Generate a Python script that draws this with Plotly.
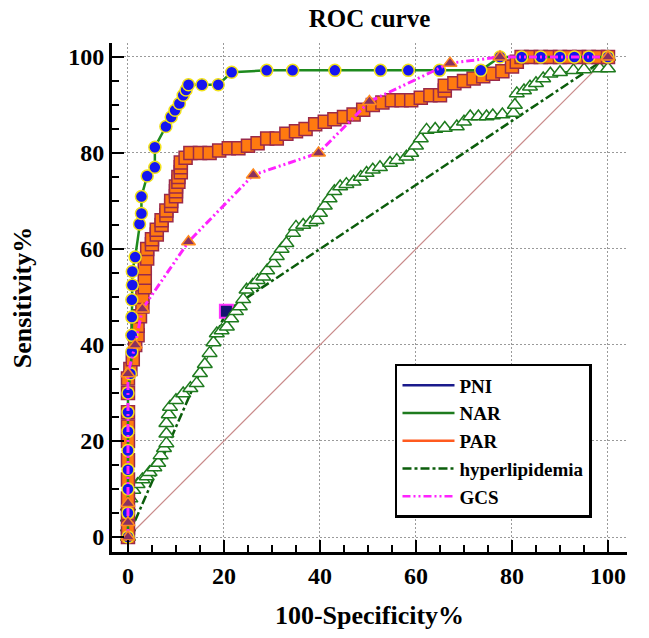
import plotly.graph_objects as go

# ---------------- data ----------------
pni_x = [0, 0, 0, 0, 0, 0, 0, 0, 0.5, 0.8, 0.8, 0.8, 0.8, 0.9, 0.9, 1.5, 2.4, 2.8, 2.8, 4.0,
         5.6, 5.6, 7.9, 9.0, 9.8, 10.7, 11.5, 12.1, 12.6, 15.4, 18.8, 21.6, 28.9, 34.3, 43.1,
         52.6, 58.4, 64.9, 73.5, 77.5, 82, 86, 90, 93, 96, 100]
pni_y = [0, 5, 10, 14, 18, 22, 26, 30, 34, 38.6, 42, 45.8, 49.4, 52.5, 55.3, 58.3, 65.2, 67.4, 70.9, 75.2,
         77, 81.2, 85.5, 87.5, 88.9, 90.3, 92, 93.1, 94.2, 94.2, 94.2, 96.8, 97.2, 97.2, 97.2,
         97.2, 97.2, 97.2, 97.2, 100, 100, 100, 100, 100, 100, 100]

nar_x = [0, 0, 0, 0, 0.5, 1.1, 2, 3, 3.9, 4.5, 5.5, 6.3, 6.8, 7.5, 8, 8, 8, 8.5, 8.75, 10,
         11.5, 13, 14.3, 15, 16, 17, 17.8, 18.5, 19.5, 20.6, 21.5, 22.5, 23.3, 24, 24.7, 26, 27,
         28.2, 29, 30.3, 31, 32, 33, 34.4, 35, 36.5, 38, 39.3, 40, 41, 42, 43, 44.2, 45.5, 47,
         48.5, 49.7, 51, 52.5, 54.6, 56, 58, 59, 60, 61, 62.2, 64, 66, 68.5, 70, 71.3, 73, 74.7,
         76, 78, 80.3, 80.6, 81, 82.5, 83.75, 85, 86.5, 88, 90, 92.8, 95, 98.3, 100, 100]
nar_y = [0, 2, 4, 6.3, 8, 9.8, 11, 12, 12.6, 13.5, 14.5, 15.4, 17, 18.5, 19.5, 21.5, 23.7, 25.5, 27.1, 28.5,
         29.9, 31, 32, 34.1, 36, 38.3, 40.5, 42.4, 43, 43.8, 45.5, 47, 48, 49.5, 51.5, 52.5, 53.5,
         54.2, 55.5, 57, 58.5, 60, 61.2, 63.3, 64.6, 65, 65.5, 66, 67.5, 69, 70.5, 72, 73, 73.5, 74,
         75, 75.8, 76.5, 77, 77.9, 78.5, 79.2, 80, 81.5, 83, 84.8, 85, 85.2, 85.5, 86.5, 87.6, 87.6, 87.6,
         87.8, 88, 88.3, 90, 92.4, 93, 93.8, 94.5, 95.5, 96.5, 96.8, 97.2, 97.4, 97.6, 97.6, 100]

par_x = [0, 0, 0, 0, 0, 0, 0, 0, 0, 0, 0, 0.5, 1, 1.5, 2, 2, 2.5, 3, 3, 3.5, 3.5, 3.5, 4, 4,
         5, 5, 6, 6, 7, 7, 8, 8, 9, 9, 10, 10, 10, 10.5, 10.5, 11, 11, 11, 12, 13, 15, 17, 19,
         21, 23, 25, 27, 29, 31, 33, 35, 37, 39, 41, 43, 45, 47, 49, 51, 53, 55, 57, 59, 61, 63,
         65, 66, 66, 68, 70, 72, 74, 76, 78, 80, 81, 82, 84, 86, 88, 90, 92, 94, 96, 98, 100]
par_y = [0, 2, 5, 8, 12, 16, 20, 23, 26, 30, 33, 35, 37, 40, 42, 44, 46, 48, 50, 52, 54, 56, 58, 60,
         61, 62, 63, 64, 65, 66, 67, 68, 69, 70, 71, 72, 73, 74, 75, 76, 77, 78, 79, 80, 80, 80, 80.5,
         81, 81, 81.5, 82, 83, 83, 84, 84.5, 85, 86, 86.5, 87, 87.5, 88, 89, 90, 90.5, 91, 91, 91, 91.5, 92,
         92, 93, 94, 94.5, 95, 95.5, 96, 96.5, 97, 98, 99, 100, 100, 100, 100, 100, 100, 100, 100, 100, 100]

hyp_x = [0, 20.5, 100]
hyp_y = [0, 47, 100]

gcs_x = [0, 0, 0, 0, 1.5, 3, 12.6, 26.1, 39.7, 50.3, 67.1, 77.5, 100]
gcs_y = [0, 3, 7, 34, 40, 47.5, 61.5, 75.4, 80, 90.7, 98.7, 100, 100]

diag = [0, 100]

legend_names = ["PNI", "NAR", "PAR", "hyperlipidemia", "GCS"]
legend_colors = ["#1a1a8c", "#1e7b1e", "#ff5a1f", "#0b5d0b", "#ff22ff"]
legend_dash = ["solid", "solid", "solid", "dashdot", "8px,3px,2px,3px,2px,3px"]

SERIF = "Liberation Serif, Times New Roman, serif"

fig = go.Figure()

# reference diagonal
fig.add_trace(go.Scatter(x=diag, y=diag, mode="lines",
                         line=dict(color="#c98a8a", width=1.2), showlegend=False, hoverinfo="skip"))
# hyperlipidemia
fig.add_trace(go.Scatter(x=hyp_x, y=hyp_y, mode="lines",
                         line=dict(color="#0b5d0b", width=2.5, dash="dashdot"), showlegend=False))
fig.add_trace(go.Scatter(x=hyp_x[1:2], y=hyp_y[1:2], mode="markers",
                         marker=dict(symbol="square", size=13, color="#14146e",
                                     line=dict(color="#ff33ff", width=2)), showlegend=False))
# NAR
fig.add_trace(go.Scatter(x=nar_x, y=nar_y, mode="lines+markers",
                         line=dict(color="#1e7b1e", width=1),
                         marker=dict(symbol="triangle-up", size=13, color="white",
                                     line=dict(color="#1e7b1e", width=1.5)), showlegend=False))
# PAR
fig.add_trace(go.Scatter(x=par_x, y=par_y, mode="lines+markers",
                         line=dict(color="#ff5a1f", width=2),
                         marker=dict(symbol="square", size=13, color="#ff7a10",
                                     line=dict(color="#9a2a4a", width=1.5)), showlegend=False))
# PNI
fig.add_trace(go.Scatter(x=pni_x, y=pni_y, mode="lines+markers",
                         line=dict(color="#1e8a1e", width=2.5),
                         marker=dict(symbol="circle", size=12, color="#1515f0",
                                     line=dict(color="#f2e21a", width=1.5)), showlegend=False))
# GCS
fig.add_trace(go.Scatter(x=gcs_x, y=gcs_y, mode="lines+markers",
                         line=dict(color="#ff22ff", width=3, dash="8px,3px,2px,3px,2px,3px"),
                         marker=dict(symbol="triangle-up", size=12, color="#8a3060",
                                     line=dict(color="#ff8a20", width=1.5)), showlegend=False))

# legend entries
for n, c, d in zip(legend_names, legend_colors, legend_dash):
    fig.add_trace(go.Scatter(x=[None], y=[None], mode="lines", name=n,
                             line=dict(color=c, width=2.5, dash=d)))

axis_common = dict(
    automargin=False,
    showline=True, linewidth=3, linecolor="black",
    ticks="inside", ticklen=12, tickwidth=2, tickcolor="black",
    dtick=20, tick0=0,
    minor=dict(dtick=5, tick0=0, ticks="inside", ticklen=7, tickwidth=1.5, tickcolor="black", showgrid=False),
    showgrid=True, gridcolor="#9a9a9a", gridwidth=1, griddash="2px,2px",
    zeroline=False,
    tickfont=dict(family=SERIF, size=24, color="black", weight="bold"),
)

fig.update_layout(
    width=649, height=638,
    margin=dict(l=112, r=22, t=43, b=86, autoexpand=False),
    paper_bgcolor="white", plot_bgcolor="white",
    title=dict(text="ROC curve", x=0.5, xref="paper", xanchor="center",
               y=1 - 18 / 638, yref="container", yanchor="middle",
               font=dict(family=SERIF, size=25, color="black", weight="bold")),
    xaxis=dict(range=[-3.33, 103.96], **axis_common,
               title=dict(text="100-Specificity%", standoff=19,
                          font=dict(family=SERIF, size=26, color="black", weight="bold"))),
    yaxis=dict(range=[-3.125, 102.9], **axis_common,
               title=dict(text="Sensitivity%", standoff=30,
                          font=dict(family=SERIF, size=26, color="black", weight="bold"))),
    legend=dict(x=0.5495, y=0.3694, xanchor="left", yanchor="top",
                bgcolor="white", bordercolor="black", borderwidth=2.5,
                font=dict(family=SERIF, size=19, color="black", weight="bold"),
                itemwidth=52),
    showlegend=True,
)

fig.write_html("out.html", config={"displayModeBar": False},
               post_script="document.body.style.margin='0';")
